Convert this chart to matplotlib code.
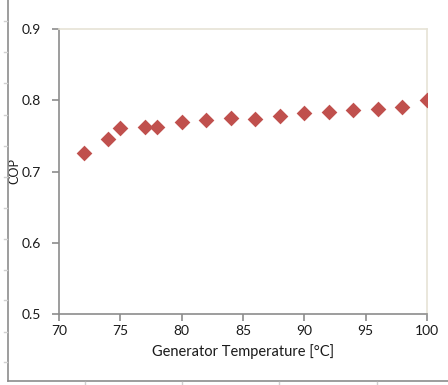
import matplotlib
matplotlib.use("Agg")
import matplotlib.pyplot as plt
from matplotlib.lines import Line2D

# Data
gen_temp = [72, 74, 75, 77, 78, 80, 82, 84, 86, 88, 90, 92, 94, 96, 98, 100]
cop = [0.726, 0.745, 0.761, 0.763, 0.763, 0.769, 0.772, 0.775, 0.774, 0.778,
       0.782, 0.784, 0.786, 0.788, 0.790, 0.800]
x_ticks = [70, 75, 80, 85, 90, 95, 100]
y_ticks = [0.5, 0.6, 0.7, 0.8, 0.9]

plt.rcParams["font.family"] = ["Lato", "DejaVu Sans"]

W, H = 448, 385
fig = plt.figure(figsize=(W / 100, H / 100), dpi=100)

# plot area in pixels: left 59, right 427, top 29, bottom 314
ax = fig.add_axes([59 / W, 1 - 314 / H, (427 - 59) / W, (314 - 29) / H])

ax.scatter(gen_temp, cop, marker="D", s=64, color="#C0504D", zorder=3,
           linewidths=0)

ax.set_xlim(70, 100)
ax.set_ylim(0.5, 0.9)
ax.set_xticks(x_ticks)
ax.set_yticks(y_ticks)
ax.set_xticklabels([str(t) for t in x_ticks])
ax.set_yticklabels([f"{t:.1f}" for t in y_ticks])

for side in ("left", "bottom"):
    ax.spines[side].set_color("#8C8C8C")
    ax.spines[side].set_linewidth(1.2)
for side in ("top", "right"):
    ax.spines[side].set_color("#E6E3D6")
    ax.spines[side].set_linewidth(1.2)

ax.tick_params(axis="both", direction="out", length=5, width=1.2,
               color="#8C8C8C", labelsize=10, labelcolor="#1A1A1A")
ax.tick_params(axis="y", pad=8)
ax.tick_params(axis="x", pad=3)

ax.set_xlabel("Generator Temperature [°C]", fontsize=10.5, color="#1A1A1A",
              labelpad=5)
ax.set_ylabel("COP", fontsize=9, color="#1A1A1A")
ax.yaxis.set_label_coords(-39 / 368, 0.5)

# outer frame pieces of the surrounding container
frame_col = "#8C8C8C"
fig.add_artist(Line2D([7.5 / W, 7.5 / W], [1, 1 - 381 / H],
                      transform=fig.transFigure, color=frame_col, lw=1.2))
fig.add_artist(Line2D([7.5 / W, 1], [1 - 381 / H, 1 - 381 / H],
                      transform=fig.transFigure, color=frame_col, lw=1.2))
for yy in [21, 52, 83, 115, 146, 177, 208, 239, 270, 300, 332, 362]:
    fig.add_artist(Line2D([4 / W, 6.5 / W], [1 - yy / H, 1 - yy / H],
                          transform=fig.transFigure, color="#D0D0D0", lw=1))
for xx in [85, 182, 279, 377]:
    fig.add_artist(Line2D([xx / W, xx / W], [1 - 382 / H, 1 - 385 / H],
                          transform=fig.transFigure, color="#D0D0D0", lw=1))

fig.savefig("out.png", dpi=100)
